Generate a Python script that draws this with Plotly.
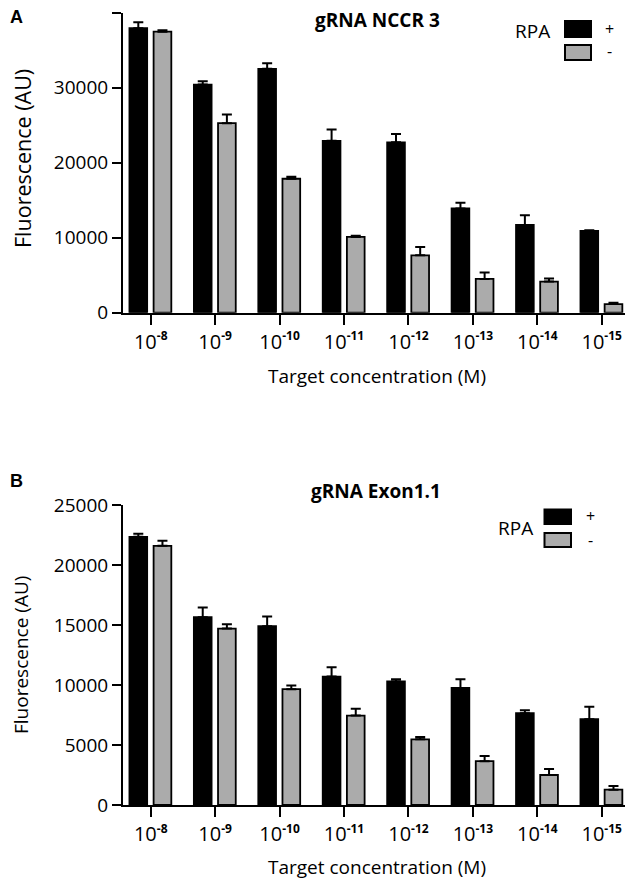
import plotly.graph_objects as go

# ---------------- data ----------------
concentrations = ["1e-8", "1e-9", "1e-10", "1e-11", "1e-12", "1e-13", "1e-14", "1e-15"]
exponents = ["-8", "-9", "-10", "-11", "-12", "-13", "-14", "-15"]
tick_labels = [f"10<sup><b><span style='font-size:12px'>{e}</span></b></sup>" for e in exponents]

nccr3_plus = [37900, 30400, 32500, 22900, 22700, 13900, 11700, 10900]
nccr3_plus_err = [800, 450, 750, 1500, 1100, 750, 1300, 100]
nccr3_minus = [37450, 25250, 17850, 10100, 7650, 4500, 4150, 1150]
nccr3_minus_err = [200, 1150, 250, 150, 1100, 850, 400, 180]

exon11_plus = [22350, 15650, 14900, 10700, 10300, 9750, 7650, 7150]
exon11_plus_err = [250, 800, 800, 780, 170, 720, 250, 1030]
exon11_minus = [21600, 14700, 9650, 7450, 5470, 3650, 2500, 1280]
exon11_minus_err = [420, 360, 300, 580, 190, 440, 500, 300]

series_names = ["+", "-"]
y_ticks_top = [0, 10000, 20000, 30000, 40000]
y_ticks_bottom = [0, 5000, 10000, 15000, 20000, 25000]

# ---------------- layout helpers ----------------
# the page body has an 8px margin, so the figure is drawn 8px in from the window edge
OFF = 8
W, H = 633 - OFF, 882 - OFF
FONT = "Open Sans"
BLACK = "#000000"
GRAY = "#ababab"


def px(x, y):
    return (x - OFF) / W, 1 - (y - OFF) / H


fig = go.Figure()


def add_bars(xa, ya, plus, plus_err, minus, minus_err):
    for vals, errs, color, off, name in [
        (plus, plus_err, BLACK, -0.33, series_names[0]),
        (minus, minus_err, GRAY, 0.045, series_names[1]),
    ]:
        fig.add_trace(go.Bar(
            x=concentrations, y=vals, name=name, xaxis=xa, yaxis=ya,
            width=0.275, offset=off, showlegend=False,
            marker=dict(color=color, line=dict(color=BLACK, width=1.8)),
            error_y=dict(type="data", array=errs, arrayminus=[0] * len(errs),
                         symmetric=False, color=BLACK, thickness=2, width=5),
        ))


add_bars("x", "y", nccr3_plus, nccr3_plus_err, nccr3_minus, nccr3_minus_err)
add_bars("x2", "y2", exon11_plus, exon11_plus_err, exon11_minus, exon11_minus_err)

xdom = [px(123, 0)[0], px(632, 0)[0]]
top_dom = [px(0, 312.7)[1], px(0, 12.5)[1]]
bot_dom = [px(0, 805)[1], px(0, 505)[1]]

xcommon = dict(type="category", range=[-0.43, 7.47], tickmode="array",
               tickvals=concentrations, ticktext=tick_labels, automargin=False,
               showline=True, linecolor=BLACK, linewidth=2, tickangle=0,
               ticks="outside", ticklen=10, tickwidth=2, tickcolor=BLACK,
               showgrid=False, zeroline=False,
               tickfont=dict(family=FONT, size=20, color=BLACK))
ycommon = dict(showline=True, linecolor=BLACK, linewidth=2, automargin=False,
               ticks="outside", ticklen=9, tickwidth=2, tickcolor=BLACK,
               showgrid=False, zeroline=False, tickformat="d",
               tickfont=dict(family=FONT, size=19, color=BLACK))

fig.update_layout(
    width=W, height=H, margin=dict(l=0, r=0, t=0, b=0, autoexpand=False),
    paper_bgcolor="white", plot_bgcolor="white",
    barmode="overlay", showlegend=False,
    xaxis=dict(domain=xdom, anchor="y", **xcommon),
    yaxis=dict(domain=top_dom, anchor="x", range=[0, 40000],
               tickvals=y_ticks_top, **ycommon),
    xaxis2=dict(domain=xdom, anchor="y2", **xcommon),
    yaxis2=dict(domain=bot_dom, anchor="x2", range=[0, 25000],
                tickvals=y_ticks_bottom, **ycommon),
)

ann = []


def text(x, y, s, size, bold=False, family=FONT, angle=0, xanchor="center"):
    xx, yy = px(x, y)
    ann.append(dict(x=xx, y=yy, xref="paper", yref="paper", text=(f"<b>{s}</b>" if bold else s),
                    showarrow=False, xanchor=xanchor, yanchor="middle", textangle=angle,
                    borderpad=0, font=dict(family=family, size=size, color=BLACK)))


# panel letters
text(16, 17, "A", 18, bold=True, family="Liberation Sans")
text(16, 481, "B", 18, bold=True, family="Liberation Sans")
# panel titles
text(377.5, 20, "gRNA NCCR 3", 19, bold=True)
text(375.5, 491, "gRNA Exon1.1", 19, bold=True)
# axis titles
text(22, 159, "Fluorescence (AU)", 21.5, angle=-90)
text(21, 655, "Fluorescence (AU)", 19, angle=-90)
text(377, 376, "Target concentration (M)", 19)
text(377, 867, "Target concentration (M)", 19)

# legends
shapes = []


def legend(rpa_xy, sq_x, black_y, gray_y, sign_x, plus_y, minus_y):
    text(rpa_xy[0], rpa_xy[1], "RPA", 19)
    for (y0, y1), col in [(black_y, BLACK), (gray_y, GRAY)]:
        x0p, y0p = px(sq_x[0], y0)
        x1p, y1p = px(sq_x[1], y1)
        shapes.append(dict(type="rect", xref="paper", yref="paper",
                           x0=x0p, x1=x1p, y0=y0p, y1=y1p,
                           fillcolor=col, line=dict(color=BLACK, width=2)))
    text(sign_x, plus_y, series_names[0], 16)
    text(sign_x, minus_y, series_names[1], 16)


legend((532, 31.5), (565, 591), (21, 37), (45, 60), 609, 29, 51)
legend((515.5, 528), (544.5, 571), (509.5, 524), (533, 547), 590, 516, 540)

fig.update_layout(annotations=ann, shapes=shapes)

fig.write_html("out.html")
